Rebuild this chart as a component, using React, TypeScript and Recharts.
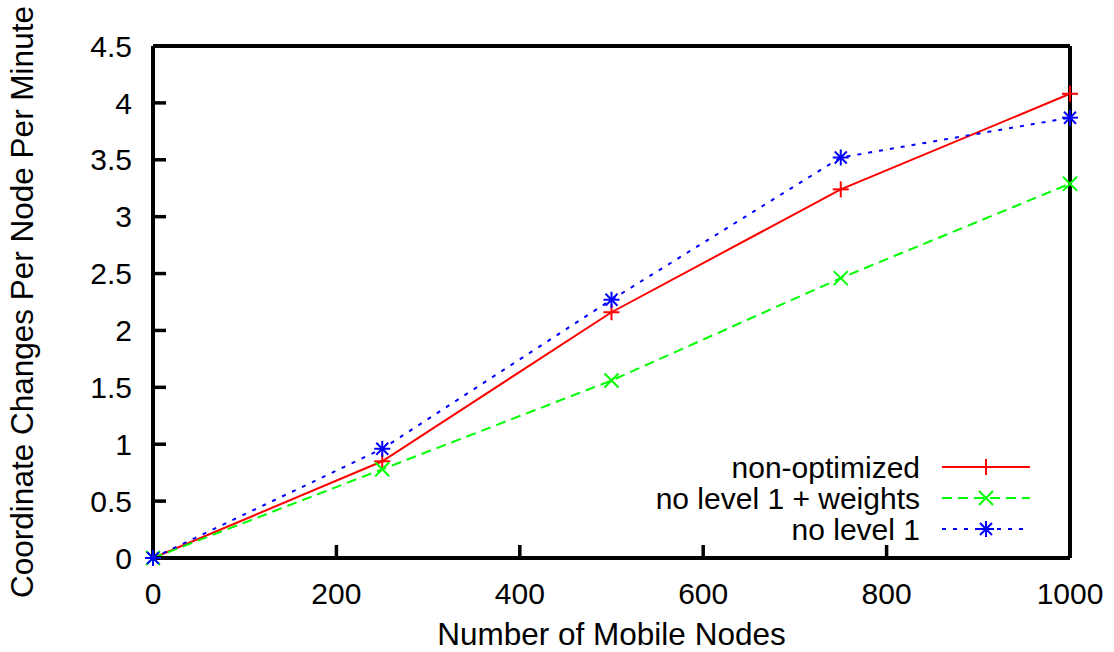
import React from 'react';
import { LineChart, Line, XAxis, YAxis, Label } from 'recharts';

// Number of mobile nodes (x) and coordinate changes per node per minute (y)
const nodeCounts = [0, 250, 500, 750, 1000];
const nonOptimized = [0, 0.85, 2.16, 3.24, 4.08];
const noLevel1Weights = [0, 0.78, 1.56, 2.46, 3.29];
const noLevel1 = [0, 0.96, 2.27, 3.52, 3.87];

const xTicks = [0, 200, 400, 600, 800, 1000];
const yTicks = [0, 0.5, 1, 1.5, 2, 2.5, 3, 3.5, 4, 4.5];

const seriesNames = ['non-optimized', 'no level 1 + weights', 'no level 1'];

const data = nodeCounts.map((n, i) => ({
  nodes: n,
  nonOptimized: nonOptimized[i],
  noLevel1Weights: noLevel1Weights[i],
  noLevel1: noLevel1[i],
}));

const FONT = '"Liberation Sans", Arial, Helvetica, sans-serif';
const FONT_SIZE = 30;
const TITLE_SIZE = 31.5;
const RED = '#ff0000';
const GREEN = '#00ff00';
const BLUE = '#0000ff';

const W = 1114;
const H = 652;
// each axis takes 1px, so the plot frame spans x 153..1070, y 46..558
const margin = { top: 45, right: 43, bottom: 93, left: 152 };

type MarkProps = { cx: number; cy: number; color: string };

const PlusMark = ({ cx, cy, color }: MarkProps) => (
  <g stroke={color} strokeWidth={2} fill="none">
    <line x1={cx - 8} y1={cy} x2={cx + 8} y2={cy} />
    <line x1={cx} y1={cy - 8} x2={cx} y2={cy + 8} />
  </g>
);

const CrossMark = ({ cx, cy, color }: MarkProps) => (
  <g stroke={color} strokeWidth={2} fill="none">
    <line x1={cx - 7} y1={cy - 7} x2={cx + 7} y2={cy + 7} />
    <line x1={cx - 7} y1={cy + 7} x2={cx + 7} y2={cy - 7} />
  </g>
);

const StarMark = ({ cx, cy, color }: MarkProps) => (
  <g stroke={color} strokeWidth={2} fill="none">
    <line x1={cx - 8} y1={cy} x2={cx + 8} y2={cy} />
    <line x1={cx} y1={cy - 8} x2={cx} y2={cy + 8} />
    <line x1={cx - 6} y1={cy - 6} x2={cx + 6} y2={cy + 6} />
    <line x1={cx - 6} y1={cy + 6} x2={cx + 6} y2={cy - 6} />
  </g>
);

const makeDot = (Mark: React.FC<MarkProps>, color: string) => (props: any) => (
  <Mark key={`dot-${props.index}`} cx={props.cx} cy={props.cy} color={color} />
);

const axisStroke = { stroke: '#000', strokeWidth: 4 };
const tickStroke = { stroke: '#000', strokeWidth: 3.5 };
const tickText = { fill: '#000', fontSize: FONT_SIZE, fontFamily: FONT };

const legendRows = [
  { name: seriesNames[0], color: RED, dash: undefined as string | undefined, Mark: PlusMark, end: 1030 },
  { name: seriesNames[1], color: GREEN, dash: '10 6', Mark: CrossMark, end: 1030 },
  { name: seriesNames[2], color: BLUE, dash: '4 7', Mark: StarMark, end: 1026 },
];

export default function App() {
  return (
    <div style={{ position: 'absolute', left: 0, top: 0, width: W, height: H, background: '#fff' }}>
      <LineChart width={W} height={H} data={data} margin={margin}>
        <XAxis
          dataKey="nodes"
          type="number"
          domain={[0, 1000]}
          ticks={xTicks}
          height={1}
          axisLine={axisStroke}
          tickLine={tickStroke}
          tickSize={-13}
          tickMargin={38}
          tick={tickText}
        >
          <Label
            content={(p: any) => (
              <text
                x={p.viewBox.x + p.viewBox.width / 2}
                y={634}
                textAnchor="middle"
                dominantBaseline="central"
                fontFamily={FONT}
                fontSize={TITLE_SIZE}
                fill="#000"
              >
                Number of Mobile Nodes
              </text>
            )}
          />
        </XAxis>
        <XAxis
          xAxisId="top"
          orientation="top"
          type="number"
          domain={[0, 1000]}
          ticks={xTicks}
          height={1}
          axisLine={axisStroke}
          tickLine={tickStroke}
          tickSize={-13}
          tickFormatter={() => ''}
        />
        <YAxis
          type="number"
          domain={[0, 4.5]}
          ticks={yTicks}
          width={1}
          axisLine={axisStroke}
          tickLine={tickStroke}
          tickSize={-13}
          tickMargin={34}
          tick={tickText}
        >
          <Label
            content={(p: any) => {
              const cx = p.viewBox.x - 130;
              const cy = p.viewBox.y + p.viewBox.height / 2;
              return (
                <text
                  x={cx}
                  y={cy}
                  transform={`rotate(-90 ${cx} ${cy})`}
                  textAnchor="middle"
                  dominantBaseline="central"
                  fontFamily={FONT}
                  fontSize={TITLE_SIZE}
                  fill="#000"
                >
                  Coordinate Changes Per Node Per Minute
                </text>
              );
            }}
          />
        </YAxis>
        <YAxis
          yAxisId="right"
          orientation="right"
          type="number"
          domain={[0, 4.5]}
          ticks={yTicks}
          width={1}
          axisLine={axisStroke}
          tickLine={tickStroke}
          tickSize={-13}
          tickFormatter={() => ''}
        />
        <Line
          type="linear"
          dataKey="nonOptimized"
          name={seriesNames[0]}
          stroke={RED}
          strokeWidth={2}
          dot={makeDot(PlusMark, RED)}
          activeDot={false}
          isAnimationActive={false}
        />
        <Line
          type="linear"
          dataKey="noLevel1Weights"
          name={seriesNames[1]}
          stroke={GREEN}
          strokeWidth={2}
          strokeDasharray="10 6"
          dot={makeDot(CrossMark, GREEN)}
          activeDot={false}
          isAnimationActive={false}
        />
        <Line
          type="linear"
          dataKey="noLevel1"
          name={seriesNames[2]}
          stroke={BLUE}
          strokeWidth={2}
          strokeDasharray="4 7"
          dot={makeDot(StarMark, BLUE)}
          activeDot={false}
          isAnimationActive={false}
        />
      </LineChart>
      <svg
        width={W}
        height={H}
        style={{ position: 'absolute', left: 0, top: 0, pointerEvents: 'none' }}
      >
        {legendRows.map((r, i) => {
          const y = 467 + i * 31;
          return (
            <g key={r.name}>
              <text
                x={920}
                y={y}
                textAnchor="end"
                dominantBaseline="central"
                fontFamily={FONT}
                fontSize={FONT_SIZE}
                fill="#000"
              >
                {r.name}
              </text>
              <line x1={942} y1={y} x2={r.end} y2={y} stroke={r.color} strokeWidth={2} strokeDasharray={r.dash} />
              <r.Mark cx={986} cy={y} color={r.color} />
            </g>
          );
        })}
      </svg>
    </div>
  );
}
